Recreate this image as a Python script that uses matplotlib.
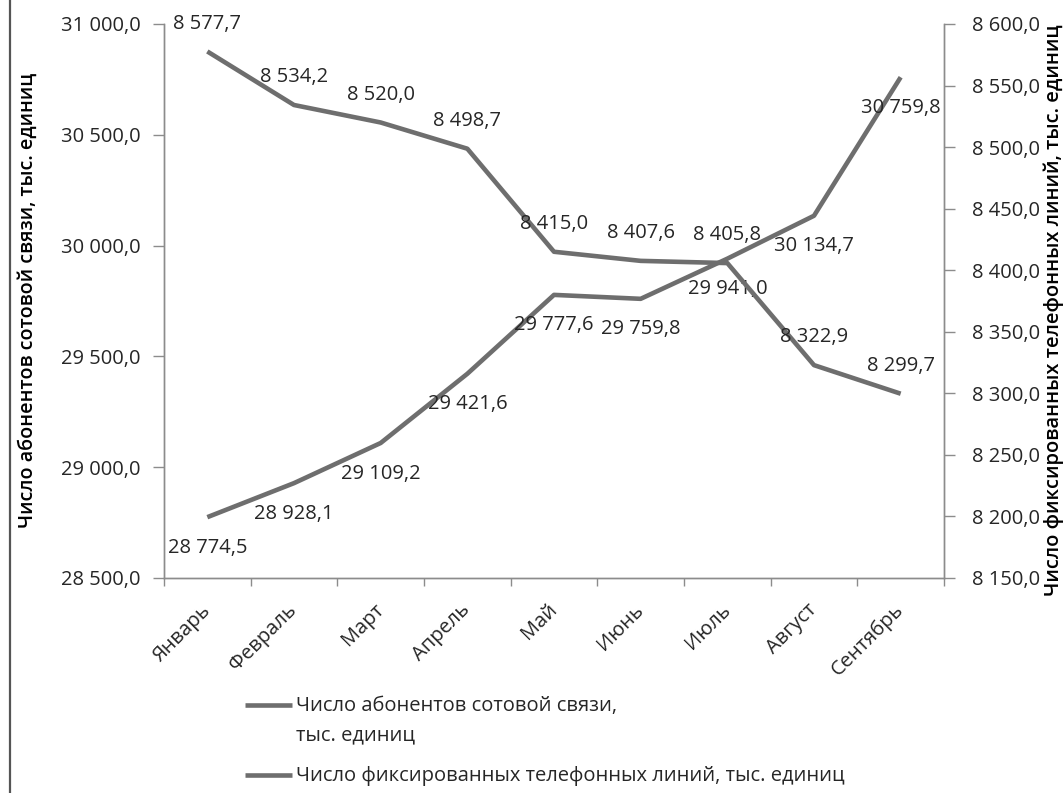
import matplotlib
matplotlib.use("Agg")
import matplotlib.pyplot as plt
from matplotlib.lines import Line2D
from matplotlib.ticker import FuncFormatter, FixedLocator
import numpy as np

months = ["Январь", "Февраль", "Март", "Апрель", "Май", "Июнь", "Июль", "Август", "Сентябрь"]
mobile_subscribers = [28774.5, 28928.1, 29109.2, 29421.6, 29777.6, 29759.8, 29941.0, 30134.7, 30759.8]
fixed_lines = [8577.7, 8534.2, 8520.0, 8498.7, 8415.0, 8407.6, 8405.8, 8322.9, 8299.7]

mobile_label = "Число абонентов сотовой связи, тыс. единиц"
fixed_label = "Число фиксированных телефонных линий, тыс. единиц"
legend_mobile = "Число абонентов сотовой связи,\nтыс. единиц"
legend_fixed = "Число фиксированных телефонных линий, тыс. единиц"

plt.rcParams["font.family"] = ["Open Sans", "DejaVu Sans"]
TEXT = "#262626"
LINE = "#6e6e6e"
AXIS = "#8c8c8c"
FS = 14.5


def ru_num(v, pos=None):
    return f"{v:,.1f}".replace(",", " ").replace(".", ",")


W, H = 1063, 793
fig = plt.figure(figsize=(W / 100, H / 100), dpi=100)
ax = fig.add_axes([164 / W, 1 - 578 / H, (944 - 164) / W, (578 - 24) / H])
ax2 = ax.twinx()

x = np.arange(len(months))
ax.plot(x, mobile_subscribers, color=LINE, lw=3.3, solid_capstyle="butt", zorder=3)
ax2.plot(x, fixed_lines, color=LINE, lw=3.3, solid_capstyle="butt", zorder=3)

ax.set_xlim(-0.5, len(months) - 0.5)
ax.set_ylim(28500, 31000)
ax2.set_ylim(8150, 8600)
ax.set_yticks(np.arange(28500, 31001, 500))
ax2.set_yticks(np.arange(8150, 8601, 50))
ax.yaxis.set_major_formatter(FuncFormatter(ru_num))
ax2.yaxis.set_major_formatter(FuncFormatter(ru_num))

ax.set_xticks(x)
ax.set_xticklabels(months, rotation=45, ha="right", va="center", rotation_mode="anchor")
ax.xaxis.set_minor_locator(FixedLocator(np.arange(-0.5, len(months), 1.0)))
ax.tick_params(axis="x", which="major", length=0, pad=21, labelsize=FS, labelcolor=TEXT)
ax.tick_params(axis="x", which="minor", length=6, width=1, color=AXIS)
ax.tick_params(axis="y", length=8, width=1, color=AXIS, pad=9, labelsize=FS, labelcolor=TEXT)
ax2.tick_params(axis="y", length=8, width=1, color=AXIS, pad=12, labelsize=FS, labelcolor=TEXT)

for a in (ax, ax2):
    a.spines["top"].set_visible(False)
    for s in ("left", "right", "bottom"):
        a.spines[s].set_color(AXIS)
        a.spines[s].set_linewidth(1)


def fx(px):
    return px / W


def fy(py):
    return 1 - py / H


# axis titles
fig.text(fx(28), fy(300), mobile_label, rotation=90, ha="center", va="center",
         fontsize=14.2, fontweight="semibold", color="black")
fig.text(fx(1054), fy(310), fixed_label, rotation=90, ha="center", va="center",
         fontsize=14.5, fontweight="semibold", color="black")

# value labels: mobile below the points, fixed lines above
for xi, v in zip(x, mobile_subscribers):
    ax.annotate(ru_num(v), (xi, v), xytext=(0, -22), textcoords="offset points",
                ha="center", va="center", fontsize=FS, color=TEXT, zorder=4)
for xi, v in zip(x, fixed_lines):
    ax2.annotate(ru_num(v), (xi, v), xytext=(0, 20), textcoords="offset points",
                 ha="center", va="center", fontsize=FS, color=TEXT, zorder=4)

# legend below the chart
for ypix, label in ((705, legend_mobile), (775, legend_fixed)):
    fig.add_artist(Line2D([fx(245), fx(292)], [fy(ypix), fy(ypix)], color=LINE, lw=3.3,
                          solid_capstyle="butt"))
    fig.text(fx(296), fy(ypix - 9), label, fontsize=FS, color=TEXT, ha="left", va="top",
             linespacing=1.65)

# frame line on the left edge
fig.add_artist(Line2D([fx(10), fx(10)], [0, 1], color="#555555", lw=1.6))

fig.savefig("out.png", dpi=100)
